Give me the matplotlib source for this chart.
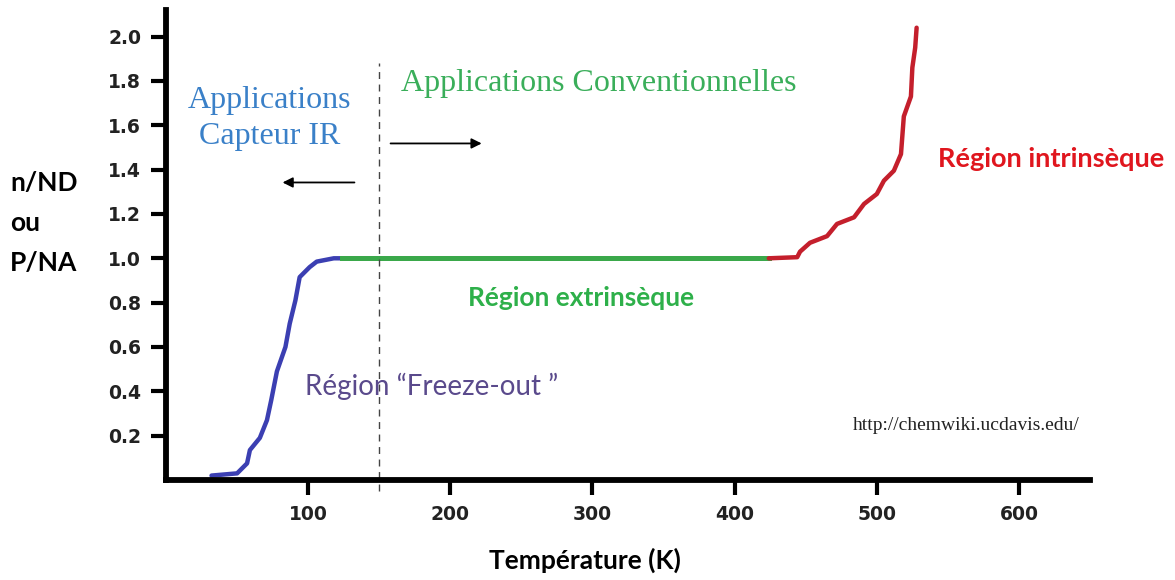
import matplotlib

matplotlib.use("Agg")
import matplotlib.pyplot as plt

# freeze-out region (blue)
t_freeze = [32, 50, 57, 59, 66, 71, 74, 78, 84, 87, 91, 94, 101, 106, 118, 124]
n_freeze = [0.02, 0.03, 0.075, 0.135, 0.19, 0.27, 0.36, 0.49, 0.60, 0.705, 0.81, 0.915,
            0.96, 0.985, 1.0, 1.0]
# extrinsic plateau (green)
t_extr = [124, 424]
n_extr = [1.0, 1.0]
# intrinsic region (red)
t_intr = [424, 444, 446, 453, 465, 472, 484, 491, 500, 505, 512, 517, 519, 524, 525, 527, 528]
n_intr = [1.0, 1.005, 1.03, 1.07, 1.10, 1.155, 1.185, 1.245, 1.29, 1.35, 1.395, 1.47,
          1.64, 1.73, 1.86, 1.95, 2.04]

x_ticks = [100, 200, 300, 400, 500, 600]
y_ticks = [0.2, 0.4, 0.6, 0.8, 1.0, 1.2, 1.4, 1.6, 1.8, 2.0]
t_split = 150

fig = plt.figure(figsize=(11.75, 5.8), dpi=100)
ax = fig.add_axes([0.1413, 0.1724, 0.7864, 0.8104])

ax.plot(t_freeze, n_freeze, color="#3b3fb2", lw=3.2, solid_capstyle="round")
ax.plot(t_extr, n_extr, color="#3aa84a", lw=3.6)
ax.plot(t_intr, n_intr, color="#c41f2c", lw=3.2, solid_capstyle="round")

ax.plot([t_split, t_split], [-0.05, 1.88], color="#444444", lw=1.0,
        dashes=(5, 4), clip_on=False)

ax.set_xlim(0, 650)
ax.set_ylim(0, 2.12)
ax.set_xticks(x_ticks)
ax.set_yticks(y_ticks)
ax.set_yticklabels([f"{v:.1f}" for v in y_ticks])
for s in ["top", "right"]:
    ax.spines[s].set_visible(False)
for s in ["left", "bottom"]:
    ax.spines[s].set_linewidth(4.2)
ax.tick_params(direction="out", length=11, width=3, labelsize=13.5, pad=7)
for lab in ax.get_xticklabels() + ax.get_yticklabels():
    lab.set_fontweight("bold")
    lab.set_color("#222222")

serif = "Liberation Serif"
sans = "Lato"

ax.text(73, 1.63, "Applications\nCapteur IR", color="#3a80c8", family=serif,
        fontsize=23, ha="center", va="center", linespacing=1.35)
ax.text(165, 1.79, "Applications Conventionnelles", color="#3aae5a", family=serif,
        fontsize=23, ha="left", va="center")
ax.annotate("", xy=(80, 1.342), xytext=(134.5, 1.342),
            arrowprops=dict(arrowstyle="-|>", color="black", lw=1.3, mutation_scale=15))
ax.annotate("", xy=(224, 1.518), xytext=(156, 1.518),
            arrowprops=dict(arrowstyle="-|>", color="black", lw=1.3, mutation_scale=15))

ax.text(543, 1.45, "Région intrinsèque", color="#e0161e", family=sans,
        fontsize=19.5, fontweight="bold", ha="left", va="center")
ax.text(292, 0.82, "Région extrinsèque", color="#2eb04a", family=sans,
        fontsize=19, fontweight="bold", ha="center", va="center")
ax.text(187, 0.423, "Région \u201cFreeze-out \u201d", color="#5a4a8c", family=sans,
        fontsize=20, ha="center", va="center")
ax.text(483, 0.248, "http://chemwiki.ucdavis.edu/", color="#222222", family=serif,
        fontsize=14, ha="left", va="center")

fig.text(585 / 1175, 1 - 560 / 580, "Température (K)", family=sans, fontsize=19,
         fontweight="bold", ha="center", va="center")
fig.text(10 / 1175, 1 - 223 / 580, "n/ND\nou\nP/NA", family=sans, fontsize=19,
         fontweight="bold", ha="left", va="center", linespacing=1.8)

fig.savefig("out.png", dpi=100)
